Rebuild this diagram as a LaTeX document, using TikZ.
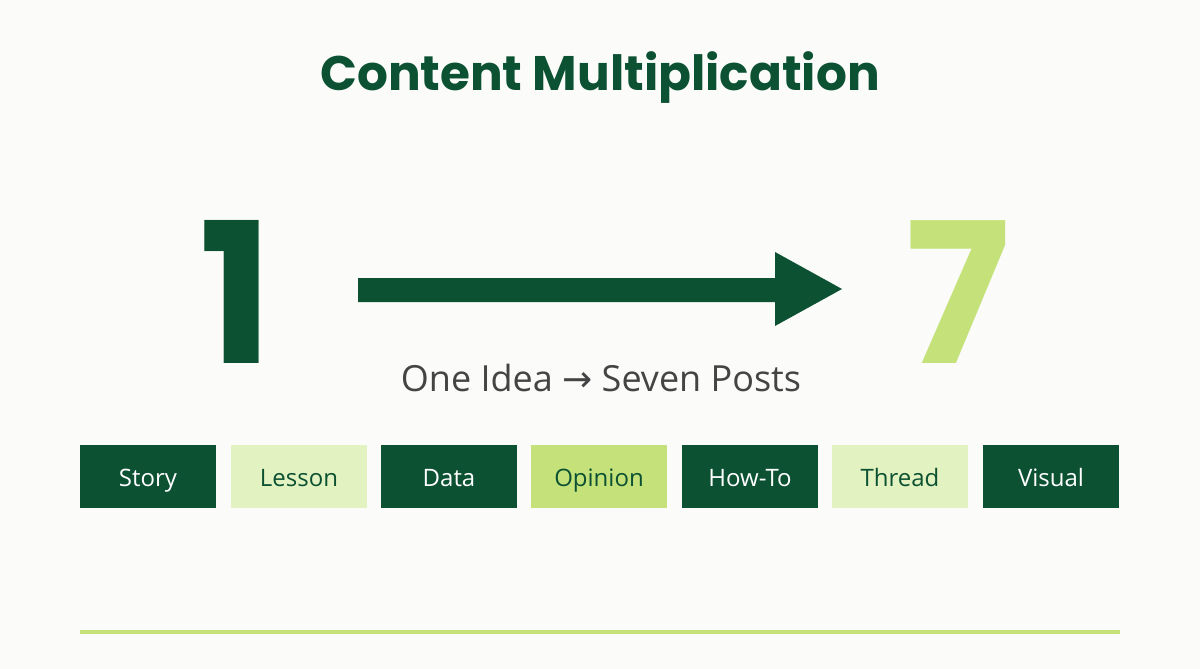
\documentclass[tikz,border=0pt]{standalone}
\usepackage{fontspec}
\setmainfont{Open Sans}
\newfontfamily\titlefont{Poppins}
\newfontfamily\symfont{DejaVu Sans}
\definecolor{dk}{HTML}{0B5132}
\definecolor{lg}{HTML}{C5E17A}
\definecolor{pl}{HTML}{E3F2C1}
\definecolor{bg}{HTML}{FBFCFA}
\definecolor{tx}{HTML}{444444}
\begin{document}
\begin{tikzpicture}[x=1pt,y=-1pt,
 tag/.style={minimum width=136pt,minimum height=63pt,inner sep=0pt,text height=22pt,text depth=2pt,font=\fontsize{24}{28}\selectfont}]
\fill[bg] (0,0) rectangle (1200,669);
\useasboundingbox (0,0) rectangle (1200,669);
\node[text=dk,font=\titlefont\bfseries\fontsize{48.5}{52}\selectfont] (title) at (600,78) {Content Multiplication};
\node[text=dk,font=\titlefont\bfseries\fontsize{196}{200}\selectfont] (one) at (236,292) {1};
\node[text=lg,font=\titlefont\bfseries\fontsize{196}{200}\selectfont] (seven) at (958,292) {7};
\fill[dk] (358,278) -- (775,278) -- (775,252) -- (842,289) -- (775,326) -- (775,302) -- (358,302) -- cycle;
\node[text=tx,font=\fontsize{36}{40}\selectfont] (sub) at (601,378) {One Idea {\symfont→} Seven Posts};
\foreach \n/\x/\f/\t in {Story/148/dk/white,Lesson/299/pl/dk,Data/449/dk/white,Opinion/599/lg/dk,How-To/750/dk/white,Thread/900/pl/dk,Visual/1051/dk/white}
  \node[tag,fill=\f,text=\t] (b\n) at (\x,476.5) {\n};
\draw[lg,line width=4pt] (80,632) -- (1120,632);
\end{tikzpicture}
\end{document}
